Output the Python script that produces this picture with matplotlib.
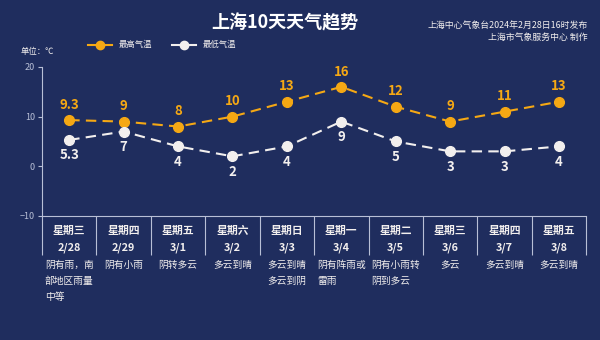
import matplotlib
matplotlib.use('Agg')
import matplotlib.pyplot as plt

plt.rcParams['font.family'] = ['Noto Sans CJK SC', 'DejaVu Sans']

weekdays = ['星期三', '星期四', '星期五', '星期六', '星期日', '星期一', '星期二', '星期三', '星期四', '星期五']
dates = ['2/28', '2/29', '3/1', '3/2', '3/3', '3/4', '3/5', '3/6', '3/7', '3/8']
weather = ['阴有雨，南\n部地区雨量\n中等', '阴有小雨', '阴转多云', '多云到晴', '多云到晴\n多云到阴',
           '阴有阵雨或\n雷雨', '阴有小雨转\n阴到多云', '多云', '多云到晴', '多云到晴']
high = [9.3, 9, 8, 10, 13, 16, 12, 9, 11, 13]
low = [5.3, 7, 4, 2, 4, 9, 5, 3, 3, 4]
high_labels = ['9.3', '9', '8', '10', '13', '16', '12', '9', '11', '13']
low_labels = ['5.3', '7', '4', '2', '4', '9', '5', '3', '3', '4']

bg = '#1f2d5e'
orange = '#f5a814'
white = '#f2efee'
axis_col = '#b8bfd6'

fig = plt.figure(figsize=(6, 3.4), dpi=100, facecolor=bg)
ax = fig.add_axes([0.07, 0.365, 0.907, 0.438], facecolor=bg)

x = [i + 0.5 for i in range(len(high))]
ax.plot(x, high, color=orange, lw=1.5, ls=(0, (5, 3)), marker='o', ms=7,
        markerfacecolor=orange, markeredgecolor=orange, zorder=3)
ax.plot(x, low, color=white, lw=1.5, ls=(0, (5, 3)), marker='o', ms=7,
        markerfacecolor=white, markeredgecolor=white, zorder=3)

for xi, v, s in zip(x, high, high_labels):
    ax.annotate(s, (xi, v), xytext=(0, 6), textcoords='offset points', ha='center', va='bottom',
                color=orange, fontsize=9.5, fontweight='bold')
for xi, v, s in zip(x, low, low_labels):
    ax.annotate(s, (xi, v), xytext=(0, -6), textcoords='offset points', ha='center', va='top',
                color=white, fontsize=9.5, fontweight='bold')

ax.set_xlim(0, 10)
ax.set_ylim(-10, 20)
ax.set_yticks([-10, 0, 10, 20])
ax.tick_params(axis='y', colors=axis_col, labelsize=6.5, length=3, width=0.8, pad=2)

# day / date labels under the axis, separators as long minor ticks
ax.set_xticks(x)
ax.set_xticklabels([w + '\n' + d for w, d in zip(weekdays, dates)], fontsize=7.8,
                   fontweight='bold', color=white, linespacing=1.9)
ax.tick_params(axis='x', length=0, pad=7)
ax.set_xticks(range(11), minor=True)
ax.tick_params(axis='x', which='minor', length=28, width=0.8, color=axis_col)

for side in ['top', 'right']:
    ax.spines[side].set_visible(False)
for side in ['left', 'bottom']:
    ax.spines[side].set_color(axis_col)
    ax.spines[side].set_linewidth(0.8)

for xi, w in zip(x, weather):
    ax.text(xi, -0.295, w, transform=ax.get_xaxis_transform(), ha='center', va='top',
            multialignment='left', color=white, fontsize=7, linespacing=1.75)

fig.text(0.475, 0.932, '上海10天天气趋势', ha='center', va='center', color='white',
         fontsize=13, fontweight='bold')
fig.text(0.98, 0.926, '上海中心气象台2024年2月28日16时发布', ha='right', va='center',
         color=white, fontsize=6.4)
fig.text(0.98, 0.889, '上海市气象服务中心 制作', ha='right', va='center', color=white, fontsize=6.4)
fig.text(0.035, 0.848, '单位：℃', ha='left', va='center', color=white, fontsize=6)

# legend
leg_y = 0.868
fig.add_artist(plt.Line2D([0.147, 0.187], [leg_y, leg_y], color=orange, lw=1.5))
fig.add_artist(plt.Line2D([0.167], [leg_y], marker='o', ms=6, color=orange))
fig.text(0.197, leg_y, '最高气温', ha='left', va='center', color=white, fontsize=6)
fig.add_artist(plt.Line2D([0.287, 0.327], [leg_y, leg_y], color=white, lw=1.5))
fig.add_artist(plt.Line2D([0.307], [leg_y], marker='o', ms=6, color=white))
fig.text(0.337, leg_y, '最低气温', ha='left', va='center', color=white, fontsize=6)

fig.savefig('out.png', dpi=100, facecolor=bg)
